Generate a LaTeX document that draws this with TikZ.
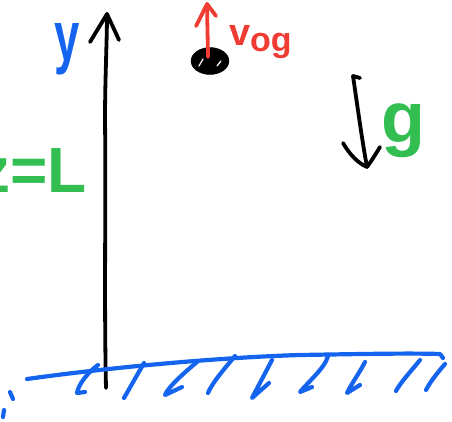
\documentclass[tikz,border=0pt]{standalone}
\usepackage{fontspec}
\setmainfont{Liberation Sans}
\usetikzlibrary{shapes.geometric}
\definecolor{penblue}{RGB}{20,100,240}
\definecolor{pengreen}{RGB}{50,190,80}
\definecolor{penred}{RGB}{240,60,50}
\tikzset{
  pen/.style={line width=3.8pt,line cap=round,line join=round},
  blackpen/.style={pen,black},
  bluepen/.style={pen,penblue,line width=4.2pt},
  redpen/.style={pen,penred},
  lbl/.style={inner sep=0pt,outer sep=0pt}
}
\begin{document}
\begin{tikzpicture}[x=1pt,y=-1pt]
\useasboundingbox (0,0) rectangle (452,421);
% vertical axis
\coordinate (axb) at (106,388);
\coordinate (axt) at (107,14);
\draw[blackpen] (axb) .. controls (104,300) and (106,200) .. (105,120) .. controls (105,80) and (107,40) .. (axt);
\draw[blackpen] (90,42) -- (axt) -- (119,40);
\node[lbl,text=penblue,font=\bfseries\fontsize{70}{70}\selectfont,xscale=0.65] (ylab) at (67,49) {y};
% z = L
\node[lbl,text=pengreen,font=\bfseries\fontsize{64}{64}\selectfont,anchor=base east] (zl) at (87,192) {z=L};
% ball with initial velocity
\node[draw=black,fill=black,ellipse,minimum width=38pt,minimum height=27pt,inner sep=0pt] (ball) at (210,61) {};
\draw[white,line width=1.2pt,line cap=round] (199,66) -- (203,59);
\draw[white,line width=1.2pt,line cap=round] (217,66) -- (221,61);
\coordinate (vt) at (207,4);
\draw[redpen] (208,57) -- (vt);
\draw[redpen] (196,26) -- (vt) -- (216,16);
\node[lbl,text=penred,anchor=base west,font=\bfseries\fontsize{38}{38}\selectfont] (vlab) at (229,45) {v\raisebox{-6pt}{\fontsize{34}{34}\selectfont og}};
% gravity arrow
\coordinate (gt) at (353,76);
\coordinate (gb) at (367,167);
\draw[blackpen] (360,78) -- (gt) .. controls (358,110) and (362,140) .. (gb);
\draw[blackpen] (343,143) .. controls (350,155) and (358,163) .. (gb) .. controls (372,160) and (377,152) .. (380,147);
\node[lbl,text=pengreen,font=\bfseries\fontsize{72}{72}\selectfont] (glab) at (403,131) {g};
% ground
\coordinate (gl) at (27,379);
\coordinate (gr) at (440,354);
\draw[bluepen] (gl) .. controls (120,366) and (230,357) .. (300,355) .. controls (360,354) and (410,353) .. (gr) -- (443,358);
\draw[bluepen] (98,365) .. controls (88,372) and (78,385) .. (77,393) -- (85,392);
\draw[bluepen] (144,363) -- (124,398);
\draw[bluepen] (197,362) .. controls (185,372) and (168,387) .. (165,395) -- (182,387);
\draw[bluepen] (235,356) .. controls (225,368) and (212,383) .. (208,393);
\draw[bluepen] (272,360) -- (252,398) -- (269,383);
\draw[bluepen] (328,356) .. controls (325,368) and (308,382) .. (300,392) -- (312,387);
\draw[bluepen] (365,362) .. controls (360,372) and (350,386) .. (347,393) -- (360,385);
\draw[bluepen] (420,360) .. controls (412,370) and (400,383) .. (396,391);
\draw[bluepen] (445,364) .. controls (438,372) and (430,382) .. (426,390);
\draw[bluepen] (10,392) -- (13,399);
\draw[bluepen] (4,410) -- (3,417);
\end{tikzpicture}
\end{document}
